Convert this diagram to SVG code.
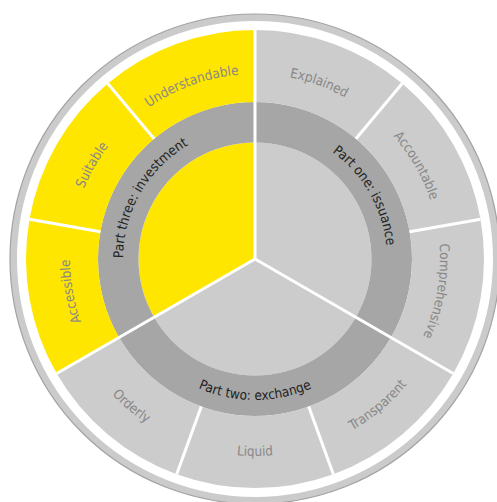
<svg xmlns="http://www.w3.org/2000/svg" xmlns:xlink="http://www.w3.org/1999/xlink" width="497" height="502" viewBox="0 0 497 502">
  <style>
    .yellow { fill: #ffe600; }
    .light { fill: #cccccc; }
    .ring { fill: #a6a6a6; }
    .div { stroke: #ffffff; stroke-width: 3; fill: none; }
    .outer { font-family: "DejaVu Sans Condensed", "Liberation Sans", Arial, sans-serif; font-stretch: condensed; font-size: 13.5px; fill: #888888; }
    .mid { font-family: "DejaVu Sans Condensed", "Liberation Sans", Arial, sans-serif; font-stretch: condensed; font-size: 13.5px; fill: #222222; }
  </style>
  <defs>
    <path id="p-explained" d="M191.73,85.16 A185,185 0 0,1 415.22,166.5"/>
    <path id="p-accountable" d="M318.27,85.16 A185,185 0 0,1 437.19,291.12"/>
    <path id="p-comprehensive" d="M415.22,166.5 A185,185 0 0,1 373.92,400.72"/>
    <path id="p-transparent" d="M255,456 A197,197 0 0,0 449.01,293.21"/>
    <path id="p-liquid" d="M128.37,409.91 A197,197 0 0,0 381.63,409.91"/>
    <path id="p-orderly" d="M60.99,293.21 A197,197 0 0,0 255,456"/>
    <path id="p-accessible" d="M136.08,400.72 A185,185 0 0,1 94.78,166.5"/>
    <path id="p-suitable" d="M72.81,291.12 A185,185 0 0,1 191.73,85.16"/>
    <path id="p-understandable" d="M94.78,166.5 A185,185 0 0,1 318.27,85.16"/>
    <path id="p-one" d="M255,127 A132,132 0 0,1 369.32,325"/>
    <path id="p-two" d="M132.89,329.5 A141,141 0 0,0 377.11,329.5"/>
    <path id="p-three" d="M140.68,325 A132,132 0 0,1 255,127"/>
  </defs>
  <rect width="497" height="502" fill="#ffffff"/>

  <!-- outer frame ring -->
  <g id="frame">
    <circle cx="255" cy="259" r="241.5" fill="none" stroke="#cbcbcb" stroke-width="7"/>
    <circle cx="255" cy="259" r="245" fill="none" stroke="#a3a3a3" stroke-width="1.2"/>
  </g>

  <!-- Part one: issuance -->
  <g id="part-one">
    <path class="light" d="M255,259 L255,142.5 A116.5,116.5 0 0,1 355.89,317.25 Z"/>
    <path class="ring" d="M255,102 A157,157 0 0,1 390.97,337.5 L355.89,317.25 A116.5,116.5 0 0,0 255,142.5 Z"/>
    <text class="mid"><textPath xlink:href="#p-one" href="#p-one" startOffset="50%" text-anchor="middle">Part one: issuance</textPath></text>
  </g>
  <g id="seg-explained">
    <path class="light" d="M255,30 A229,229 0 0,1 402.20,83.58 L355.92,138.73 A157,157 0 0,0 255,102 Z"/>
    <text class="outer"><textPath xlink:href="#p-explained" href="#p-explained" startOffset="50%" text-anchor="middle">Explained</textPath></text>
  </g>
  <g id="seg-accountable">
    <path class="light" d="M402.20,83.58 A229,229 0 0,1 480.52,219.23 L409.62,231.74 A157,157 0 0,0 355.92,138.73 Z"/>
    <text class="outer"><textPath xlink:href="#p-accountable" href="#p-accountable" startOffset="50%" text-anchor="middle">Accountable</textPath></text>
  </g>
  <g id="seg-comprehensive">
    <path class="light" d="M480.52,219.23 A229,229 0 0,1 453.32,373.5 L390.97,337.5 A157,157 0 0,0 409.62,231.74 Z"/>
    <text class="outer"><textPath xlink:href="#p-comprehensive" href="#p-comprehensive" startOffset="50%" text-anchor="middle">Comprehensive</textPath></text>
  </g>

  <!-- Part two: exchange -->
  <g id="part-two">
    <path class="light" d="M255,259 L355.89,317.25 A116.5,116.5 0 0,1 154.11,317.25 Z"/>
    <path class="ring" d="M390.97,337.5 A157,157 0 0,1 119.03,337.5 L154.11,317.25 A116.5,116.5 0 0,0 355.89,317.25 Z"/>
    <text class="mid"><textPath xlink:href="#p-two" href="#p-two" startOffset="50%" text-anchor="middle">Part two: exchange</textPath></text>
  </g>
  <g id="seg-transparent">
    <path class="light" d="M453.32,373.5 A229,229 0 0,1 333.32,474.19 L308.70,406.53 A157,157 0 0,0 390.97,337.5 Z"/>
    <text class="outer"><textPath xlink:href="#p-transparent" href="#p-transparent" startOffset="50%" text-anchor="middle">Transparent</textPath></text>
  </g>
  <g id="seg-liquid">
    <path class="light" d="M333.32,474.19 A229,229 0 0,1 176.68,474.19 L201.30,406.53 A157,157 0 0,0 308.70,406.53 Z"/>
    <text class="outer"><textPath xlink:href="#p-liquid" href="#p-liquid" startOffset="50%" text-anchor="middle">Liquid</textPath></text>
  </g>
  <g id="seg-orderly">
    <path class="light" d="M176.68,474.19 A229,229 0 0,1 56.68,373.5 L119.03,337.5 A157,157 0 0,0 201.30,406.53 Z"/>
    <text class="outer"><textPath xlink:href="#p-orderly" href="#p-orderly" startOffset="50%" text-anchor="middle">Orderly</textPath></text>
  </g>

  <!-- Part three: investment -->
  <g id="part-three">
    <path class="yellow" d="M255,259 L154.11,317.25 A116.5,116.5 0 0,1 255,142.5 Z"/>
    <path class="ring" d="M119.03,337.5 A157,157 0 0,1 255,102 L255,142.5 A116.5,116.5 0 0,0 154.11,317.25 Z"/>
    <text class="mid"><textPath xlink:href="#p-three" href="#p-three" startOffset="50%" text-anchor="middle">Part three: investment</textPath></text>
  </g>
  <g id="seg-accessible">
    <path class="yellow" d="M56.68,373.5 A229,229 0 0,1 29.48,219.23 L100.38,231.74 A157,157 0 0,0 119.03,337.5 Z"/>
    <text class="outer"><textPath xlink:href="#p-accessible" href="#p-accessible" startOffset="50%" text-anchor="middle">Accessible</textPath></text>
  </g>
  <g id="seg-suitable">
    <path class="yellow" d="M29.48,219.23 A229,229 0 0,1 107.80,83.58 L154.08,138.73 A157,157 0 0,0 100.38,231.74 Z"/>
    <text class="outer"><textPath xlink:href="#p-suitable" href="#p-suitable" startOffset="50%" text-anchor="middle">Suitable</textPath></text>
  </g>
  <g id="seg-understandable">
    <path class="yellow" d="M107.80,83.58 A229,229 0 0,1 255,30 L255,102 A157,157 0 0,0 154.08,138.73 Z"/>
    <text class="outer"><textPath xlink:href="#p-understandable" href="#p-understandable" startOffset="50%" text-anchor="middle">Understandable</textPath></text>
  </g>

  <!-- dividers -->
  <g id="connectors">
    <line class="div" x1="255" y1="259" x2="255" y2="30"/>
    <line class="div" x1="255" y1="259" x2="453.32" y2="373.5"/>
    <line class="div" x1="255" y1="259" x2="56.68" y2="373.5"/>
    <line class="div" x1="355.92" y1="138.73" x2="402.20" y2="83.58"/>
    <line class="div" x1="409.62" y1="231.74" x2="480.52" y2="219.23"/>
    <line class="div" x1="308.70" y1="406.53" x2="333.32" y2="474.19"/>
    <line class="div" x1="201.30" y1="406.53" x2="176.68" y2="474.19"/>
    <line class="div" x1="100.38" y1="231.74" x2="29.48" y2="219.23"/>
    <line class="div" x1="154.08" y1="138.73" x2="107.80" y2="83.58"/>
  </g>
</svg>
